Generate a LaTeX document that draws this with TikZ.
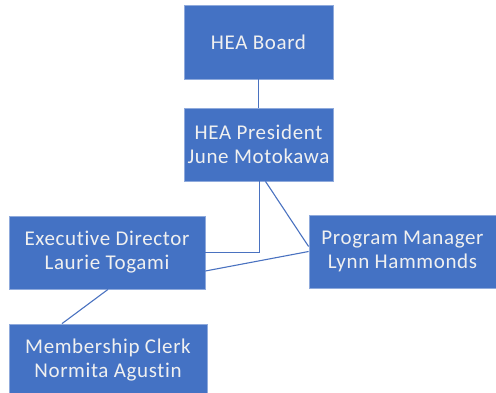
\documentclass[tikz,border=0pt]{standalone}
\usepackage{fontspec}
\setmainfont{Carlito}[LetterSpace=3,Ligatures=NoCommon]
\definecolor{boxfill}{HTML}{4472C4}
\definecolor{boxline}{HTML}{8FAADC}
\definecolor{conn}{HTML}{4A72C0}
\definecolor{txt}{HTML}{F0F0F0}
\begin{document}
\begin{tikzpicture}[x=1pt,y=-1pt,
  box/.style={draw=boxline, line width=0.8pt, fill=boxfill, inner sep=0pt, align=center,
    text=txt, font=\fontsize{21}{24}\selectfont},
  conline/.style={draw=conn, line width=1.1pt}]
\useasboundingbox (0,0) rectangle (496,392);
\node[box, minimum width=149, minimum height=74] (board) at (258.5,42) {HEA Board};
\node[box, minimum width=149, minimum height=73] (pres) at (258.5,144.5) {HEA President\\June Motokawa};
\node[box, minimum width=196, minimum height=73] (ed) at (107,252.5) {Executive Director\\Laurie Togami};
\node[box, minimum width=187, minimum height=73] (pm) at (402.5,251.5) {Program Manager\\Lynn Hammonds};
\node[box, minimum width=198, minimum height=73] (mc) at (108,360.5) {Membership Clerk\\Normita Agustin};
\coordinate (bend) at (259.5,252.5);
\draw[conline] (board.south) -- (pres.north);
\draw[conline] (pres.south -| bend) -- (bend) -- (ed.east |- bend);
\draw[conline] ([xshift=7]pres.south) -- ([yshift=5]pm.west);
\draw[conline] ([yshift=-18.5]ed.east) -- (pm.west);
\draw[conline] ([xshift=1]ed.south) -- ([xshift=-46]mc.north);
\end{tikzpicture}
\end{document}
